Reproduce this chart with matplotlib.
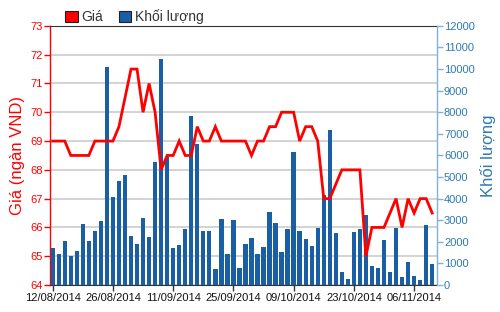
import matplotlib
matplotlib.use("Agg")
import matplotlib.pyplot as plt
from matplotlib.patches import Patch
import numpy as np

plt.rcParams['font.family'] = ['Liberation Sans', 'DejaVu Sans']

dates = ["12/08/2014", "26/08/2014", "11/09/2014", "25/09/2014",
         "09/10/2014", "23/10/2014", "06/11/2014"]

price = [69.0, 69.0, 69.0, 68.5, 68.5, 68.5, 68.5, 69.0, 69.0, 69.0,
         69.0, 69.5, 70.5, 71.5, 71.5, 70.0, 71.0, 70.0, 68.0, 68.5,
         68.5, 69.0, 68.5, 68.5, 69.5, 69.0, 69.0, 69.5, 69.0, 69.0,
         69.0, 69.0, 69.0, 68.5, 69.0, 69.0, 69.5, 69.5, 70.0, 70.0,
         70.0, 69.0, 69.5, 69.5, 69.0, 67.0, 67.0, 67.5, 68.0, 68.0,
         68.0, 68.0, 65.0, 66.0, 66.0, 66.0, 66.5, 67.0, 66.0, 67.0,
         66.5, 67.0, 67.0, 66.5]

volume = [1730, 1430, 2060, 1330, 1560, 2830, 2060, 2500, 2980, 10080,
          4070, 4840, 5090, 2250, 1910, 3110, 2240, 5700, 10450, 5910,
          1710, 1850, 2590, 7850, 6530, 2520, 2480, 720, 3040, 1420,
          3010, 770, 1900, 2160, 1420, 1740, 3390, 2850, 1510, 2580,
          6170, 2520, 2140, 1800, 2620, 4170, 7180, 2390, 600, 280,
          2440, 2580, 3250, 900, 770, 2100, 600, 2620, 370, 1080,
          420, 230, 2780, 960]

x = np.arange(len(price))
tick_idx = [0, 10, 20, 30, 40, 50, 60]

RED = '#ff0000'
BAR = '#1a5fa6'
BLUE_AX = '#7fb2d6'
BLUE_TXT = '#2f7ab0'

fig = plt.figure(figsize=(5.0, 3.12), dpi=100)
ax = fig.add_axes([0.1, 0.0865, 0.774, 0.8305])
ax2 = ax.twinx()
ax3 = ax.twinx()

# price axis (base, grid)
ax.set_ylim(64, 73)
ax.set_yticks(np.arange(64, 74, 1))
ax.yaxis.grid(True, color='#cccccc', linewidth=1.2)
ax.set_axisbelow(True)
ax.set_xlim(-0.45, 63.8)
ax.set_xticks(tick_idx)
ax.set_xticklabels(dates, fontsize=8, family=['Liberation Sans Narrow', 'Liberation Sans'])
ax.tick_params(axis='x', length=4, width=1, color='#333333', pad=2, labelcolor='#111111')
ax.tick_params(axis='y', colors=RED, length=4, width=1, labelsize=8, pad=1)
for lab in ax.get_yticklabels():
    lab.set_family(['Liberation Sans Narrow', 'Liberation Sans'])
ax.spines['left'].set_color(RED)
ax.spines['left'].set_linewidth(1.0)
ax.spines['top'].set_color('#333333')
ax.spines['bottom'].set_color('#333333')
ax.spines['right'].set_visible(False)
ax.set_ylabel('Giá (ngàn VND)', color=RED, fontsize=12, labelpad=4)

# volume axis
ax2.bar(x, volume, width=0.72, color=BAR, zorder=2)
ax2.set_ylim(0, 12000)
ax2.set_yticks(np.arange(0, 13000, 1000))
ax2.tick_params(axis='y', colors=BLUE_AX, labelcolor=BLUE_TXT, length=4, width=1, labelsize=8, pad=1)
for lab in ax2.get_yticklabels():
    lab.set_family(['Liberation Sans Narrow', 'Liberation Sans'])
ax2.spines['right'].set_color(BLUE_AX)
ax2.spines['right'].set_linewidth(1.0)
for s in ['left', 'top', 'bottom']:
    ax2.spines[s].set_visible(False)
ax2.set_ylabel('Khối lượng', color=BLUE_TXT, fontsize=12, labelpad=4)
ax2.patch.set_visible(False)

# price line on top
ax3.plot(x, price, color=RED, linewidth=2.0, solid_joinstyle='miter', zorder=3)
ax3.set_ylim(64, 73)
ax3.set_xlim(-0.45, 63.8)
ax3.axis('off')
ax3.patch.set_visible(False)

ax.set_zorder(0)
ax2.set_zorder(1)
ax3.set_zorder(2)

handles = [Patch(facecolor=RED, edgecolor='#222222', linewidth=0.8),
           Patch(facecolor=BAR, edgecolor='#222222', linewidth=0.8)]
fig.legend(handles, ['Giá', 'Khối lượng'], loc='upper left', bbox_to_anchor=(0.105, 1.01),
           ncol=2, frameon=False, fontsize=10, handlelength=0.9, handleheight=0.9,
           handletextpad=0.3, columnspacing=1.1, labelcolor='#333333')

fig.savefig('out.png', dpi=100)
